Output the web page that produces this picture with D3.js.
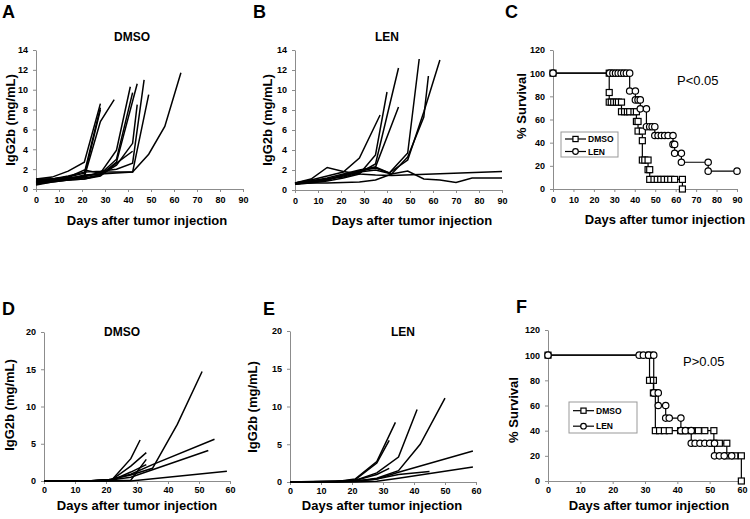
<!DOCTYPE html>
<html>
<head>
<meta charset="utf-8">
<style>
  body { margin: 0; background: #fff; }
  svg text { font-family: "Liberation Sans", Arial, sans-serif; }
  .axis path, .axis line { stroke: #8c8c8c; }
  .axis text { font-size: 9px; font-weight: bold; fill: #000; }
  .mouse { fill: none; stroke: #000; stroke-width: 1.5px; }
  .km { fill: none; stroke: #000; stroke-width: 1.2px; }
  .mark { fill: #fff; stroke: #000; stroke-width: 1.2px; }
</style>
</head>
<body>
<svg id="fig" width="750" height="519"></svg>
<script src="https://d3js.org/d3.v7.min.js"></script>
<script>
// tick labels
var daysTicks90 = [0, 10, 20, 30, 40, 50, 60, 70, 80, 90];
var daysTicks60 = [0, 10, 20, 30, 40, 50, 60];
var igTicks14 = [0, 2, 4, 6, 8, 10, 12, 14];
var igTicks20 = [0, 5, 10, 15, 20];
var survTicks = [0, 20, 40, 60, 80, 100, 120];

// A: DMSO, IgG2b per mouse, [day, mg/mL]
var dmsoA = [
  [[0,1.0],[7,1.2],[14,1.8],[21,2.7],[28,8.6]],
  [[0,0.8],[7,1.0],[14,1.2],[21,1.6],[28,8.2]],
  [[0,0.6],[7,0.8],[14,1.0],[21,1.3],[28,8.0]],
  [[0,0.5],[7,0.7],[14,0.9],[21,1.2],[28,6.8],[34,9.0]],
  [[0,0.9],[7,1.0],[14,1.2],[21,1.9],[28,1.6],[35,3.9],[41,10.3]],
  [[0,0.7],[7,0.9],[14,1.1],[21,1.3],[28,1.5],[35,3.0],[42,9.7]],
  [[0,0.8],[7,0.8],[14,1.0],[21,1.1],[28,1.4],[35,2.7],[44,10.6]],
  [[0,0.6],[7,0.8],[14,0.9],[21,1.0],[28,1.4],[35,2.4],[42,4.6],[44,8.5]],
  [[0,1.0],[7,1.0],[14,1.3],[21,1.7],[28,1.8],[35,2.0],[42,2.6],[47,11.0]],
  [[0,0.7],[7,0.9],[14,1.0],[21,1.4],[28,1.5],[35,1.6],[42,1.7],[49,9.5]],
  [[0,0.9],[7,1.0],[14,1.1],[21,1.2],[28,1.7],[35,1.7],[42,1.7],[49,3.5],[56,6.3],[63,11.7]],
  [[0,0.4],[7,0.7],[14,0.9],[21,1.0],[28,1.3],[35,2.6],[42,3.8]]
];

// B: LEN
var lenB = [
  [[0,0.6],[7,0.8],[14,1.0],[21,1.5],[28,1.9],[35,2.2],[41,1.7],[49,3.7],[54,13.1]],
  [[0,0.7],[7,0.9],[14,1.2],[21,1.6],[28,2.0],[35,2.3],[41,1.7],[49,3.0],[56,7.8],[63,13.0]],
  [[0,0.6],[7,0.8],[14,1.1],[21,1.4],[28,1.8],[35,2.0],[42,1.6],[49,3.3],[56,7.3],[58,11.4]],
  [[0,0.7],[7,0.9],[14,1.1],[21,1.3],[28,1.7],[35,2.6],[45,12.2]],
  [[0,0.6],[7,0.7],[14,0.9],[21,1.2],[28,1.6],[35,3.5],[40,9.8]],
  [[0,0.7],[7,1.0],[14,1.4],[21,1.8],[28,3.2],[37,7.5]],
  [[0,0.6],[7,0.8],[14,1.0],[21,1.5],[28,1.9],[35,2.3],[45,8.3]],
  [[0,0.7],[7,1.1],[14,2.25],[21,1.85],[28,1.6],[35,1.5],[42,1.45],[90,1.85]],
  [[0,0.6],[7,0.7],[14,0.7],[21,0.75],[28,0.8],[35,1.0],[42,1.6],[49,1.9],[56,1.1],[63,1.0],[70,0.75],[77,1.2],[90,1.2]]
];

// D: DMSO (second cohort)
var dmsoD = [
  [[0,0],[7,0],[14,0],[21,0.2],[28,0.8],[35,1.7],[43,7.6],[51,14.7]],
  [[0,0],[14,0],[21,0.1],[28,0.9],[35,2.2],[55,5.6]],
  [[0,0],[14,0],[21,0.1],[28,0.5],[35,1.5],[53,4.1]],
  [[0,0],[21,0],[28,0],[59,1.3]],
  [[0,0],[14,0],[22,0.2],[28,3.0],[31,5.5]],
  [[0,0],[14,0],[22,0.2],[28,2.0],[33,3.8]],
  [[0,0],[21,0],[28,0.1],[33,2.9]],
  [[0,0],[14,0],[22,0.1],[28,1.2],[33,2.2]]
];

// E: LEN (second cohort)
var lenE = [
  [[0,0],[14,0],[21,0.4],[28,2.7],[34,7.9]],
  [[0,0],[14,0],[21,0.3],[28,2.5],[32,5.5]],
  [[0,0],[14,0],[21,0.2],[28,1.2],[35,3.3],[41,9.6]],
  [[0,0],[14,0],[21,0.1],[28,0.5],[35,1.5],[42,5.0],[50,11.1]],
  [[0,0],[21,0.1],[28,0.4],[35,1.3],[59,4.1]],
  [[0,0],[21,0],[28,0.1],[35,0.5],[59,2.0]],
  [[0,0],[21,0.1],[28,0.4],[35,1.0],[45,1.4]],
  [[0,0],[21,0.2],[28,1.0],[32,1.8]]
];

// C: survival curves, [day, %]
var kmDmsoC = [[0,100],[27.5,100],[27.5,83.3],[27.5,75],[28.5,75],[29.7,75],[31,75],[32,75],[33.5,75],[33.5,66.7],
  [35,66.7],[36.4,66.7],[37.5,66.7],[39.6,66.7],[40.8,66.7],[40.8,58.3],[41.6,58.3],[41.6,50],[43.7,50],[43.7,41.7],
  [43.7,25],[44.9,25],[46.5,25],[46.5,16.7],[47.3,16.7],[47.3,8.3],[49.4,8.3],[51,8.3],[52.7,8.3],[54.3,8.3],
  [56,8.3],[57.6,8.3],[59.5,8.3],[63.3,8.3],[63.3,0]];
var kmLenC = [[0,100],[27.7,100],[29.3,100],[30.6,100],[31.9,100],[33.3,100],[34.6,100],[35.9,100],[37.5,100],[37.5,84.6],
  [40.3,84.6],[40.3,76.9],[41.6,76.9],[42.7,76.9],[42.7,69.2],[45.7,69.2],[45.7,53.8],[47.3,53.8],[48.5,53.8],[49.8,53.8],
  [49.8,46.2],[51.4,46.2],[53,46.2],[54.6,46.2],[56.3,46.2],[58.7,46.2],[58.7,38.5],[59.5,38.5],[59.5,30.8],[62.8,30.8],
  [62.8,23.1],[75.9,23.1],[75.9,15.4],[90,15.4]];

// F: survival curves
var kmDmsoF = [[0,100],[31.4,100],[31.4,80],[32.6,80],[32.6,70],[33.2,70],[33.2,40],[34.5,40],[36,40],[37.5,40],
  [41,40],[42.5,40],[44.5,40],[46.5,40],[48.5,40],[51.3,40],[51.3,30],[53,30],[55.3,30],[55.3,20],[57.8,20],
  [59.8,20],[59.8,0]];
var kmLenF = [[0,100],[28.2,100],[29.5,100],[31.1,100],[32.7,100],[32.7,70],[34.1,70],[34.1,60],[36.4,60],[36.4,50],
  [37.5,50],[41.1,50],[41.1,40],[42.5,40],[44.3,40],[44.3,30],[45.5,30],[47,30],[48.5,30],[50,30],[51.5,30],
  [51.5,20],[53,20],[54.5,20],[56.8,20]];

var svg = d3.select("#fig");
svg.append("rect").attr("width", 750).attr("height", 519).attr("fill", "#fff");

var yLabIg = "IgG2b (mg/mL)",
    yLabSurv = "% Survival",
    xLab = "Days after tumor injection";

// draws axes + texts of one panel, returns its scales
function panel(p) {
  var x = d3.scaleLinear().domain([0, p.xmax]).range([p.x0, p.x1]);
  var y = d3.scaleLinear().domain([0, p.ymax]).range([p.y0, p.y1]);
  var g = svg.append("g");
  g.append("g").attr("class", "axis")
    .attr("transform", "translate(0," + p.y0 + ")")
    .call(d3.axisBottom(x).tickValues(p.xt).tickSize(3).tickSizeOuter(0).tickPadding(p.pad || 5));
  g.append("g").attr("class", "axis")
    .attr("transform", "translate(" + p.x0 + ",0)")
    .call(d3.axisLeft(y).tickValues(p.yt).tickSize(3).tickSizeOuter(0).tickPadding(5));
  g.append("text").text(p.letter)
    .attr("x", p.lx).attr("y", p.ly)
    .style("font-size", "18px").style("font-weight", "bold");
  if (p.title) {
    g.append("text").text(p.title)
      .attr("x", p.tx).attr("y", p.ty)
      .attr("text-anchor", "middle")
      .style("font-size", "12px").style("font-weight", "bold");
  }
  g.append("text").text(xLab)
    .attr("x", p.xlx).attr("y", p.xly)
    .attr("text-anchor", "middle")
    .style("font-size", "13px").style("font-weight", "bold");
  g.append("text").text(p.ylab)
    .attr("transform", "translate(" + p.ylx + "," + p.yly + ") rotate(-90)")
    .attr("text-anchor", "middle")
    .style("font-size", "13px").style("font-weight", "bold");
  return {x: x, y: y, g: g};
}

function spaghetti(s, mice) {
  var line = d3.line().x(function (d) { return s.x(d[0]); }).y(function (d) { return s.y(d[1]); });
  s.g.selectAll("path.mouse").data(mice).enter().append("path")
    .attr("class", "mouse")
    .attr("d", line);
}

function marker(sel, shape, r) {
  if (shape === "square") {
    sel.append("rect").attr("class", "mark")
      .attr("x", function (d) { return d.px - r; })
      .attr("y", function (d) { return d.py - r; })
      .attr("width", 2 * r).attr("height", 2 * r);
  } else {
    sel.append("circle").attr("class", "mark")
      .attr("cx", function (d) { return d.px; })
      .attr("cy", function (d) { return d.py; })
      .attr("r", r);
  }
}

function survival(s, pts, shape) {
  var line = d3.line().x(function (d) { return s.x(d[0]); }).y(function (d) { return s.y(d[1]); });
  var grp = s.g.append("g");
  grp.append("path").attr("class", "km").attr("d", line(pts));
  var m = grp.selectAll("g").data(pts.map(function (d) {
    return {px: s.x(d[0]), py: s.y(d[1])};
  })).enter().append("g");
  marker(m, shape, shape === "square" ? 3 : 3.2);
}

function legend(s, lx, ly, w, h, rows) {
  var lg = s.g.append("g");
  lg.append("rect").attr("x", lx).attr("y", ly).attr("width", w).attr("height", h)
    .attr("fill", "#fff").attr("stroke", "#999").attr("stroke-width", 1);
  rows.forEach(function (r, i) {
    var yy = ly + h * (0.28 + 0.5 * i);
    lg.append("line").attr("x1", lx + 4).attr("x2", lx + 25).attr("y1", yy).attr("y2", yy)
      .attr("stroke", "#000").attr("stroke-width", 1.2);
    marker(lg.append("g").datum({px: lx + 14.5, py: yy}), r.shape, r.shape === "square" ? 2.6 : 2.8);
    lg.append("text").text(r.name).attr("x", lx + 27).attr("y", yy + 3)
      .style("font-size", "8.5px").style("font-weight", "bold");
  });
}

// A
var sA = panel({x0: 36, x1: 243, y0: 189, y1: 50, xmax: 90, ymax: 14, xt: daysTicks90, yt: igTicks14,
  letter: "A", lx: 2, ly: 18, title: "DMSO", tx: 132, ty: 41, xlx: 147, xly: 225, ylab: yLabIg, ylx: 15, yly: 120});
spaghetti(sA, dmsoA);

// B
var sB = panel({x0: 295, x1: 502, y0: 190, y1: 50, xmax: 90, ymax: 14, xt: daysTicks90, yt: igTicks14,
  letter: "B", lx: 253, ly: 18, title: "LEN", tx: 387, ty: 41, xlx: 412, xly: 225, ylab: yLabIg, ylx: 272, yly: 120});
spaghetti(sB, lenB);

// C
var sC = panel({x0: 553, x1: 737, y0: 189, y1: 50, xmax: 90, ymax: 120, xt: daysTicks90, yt: survTicks,
  letter: "C", lx: 505, ly: 18, title: null, xlx: 665, xly: 224, ylab: yLabSurv, ylx: 526, yly: 106});
survival(sC, kmDmsoC, "square");
survival(sC, kmLenC, "circle");
legend(sC, 561, 132, 57, 25, [{name: "DMSO", shape: "square"}, {name: "LEN", shape: "circle"}]);
sC.g.append("text").text("P<0.05").attr("x", 677).attr("y", 85).style("font-size", "13px");

// D
var sD = panel({x0: 44, x1: 230, y0: 481, y1: 332, xmax: 60, ymax: 20, xt: daysTicks60, yt: igTicks20, pad: 3,
  letter: "D", lx: 2, ly: 315, title: "DMSO", tx: 122, ty: 336, xlx: 137, xly: 510, ylab: yLabIg, ylx: 14, yly: 405});
spaghetti(sD, dmsoD);

// E
var sE = panel({x0: 290, x1: 476, y0: 482, y1: 331, xmax: 60, ymax: 20, xt: daysTicks60, yt: igTicks20, pad: 3,
  letter: "E", lx: 263, ly: 315, title: "LEN", tx: 403, ty: 336, xlx: 382, xly: 510, ylab: yLabIg, ylx: 257, yly: 407});
spaghetti(sE, lenE);

// F
var sF = panel({x0: 548, x1: 742, y0: 481, y1: 330, xmax: 60, ymax: 120, xt: daysTicks60, yt: survTicks, pad: 3,
  letter: "F", lx: 516, ly: 313, title: null, xlx: 649, xly: 510, ylab: yLabSurv, ylx: 518, yly: 410});
survival(sF, kmDmsoF, "square");
survival(sF, kmLenF, "circle");
legend(sF, 569, 402, 68, 31, [{name: "DMSO", shape: "square"}, {name: "LEN", shape: "circle"}]);
sF.g.append("text").text("P>0.05").attr("x", 683).attr("y", 366).style("font-size", "13px");
</script>
</body>
</html>
